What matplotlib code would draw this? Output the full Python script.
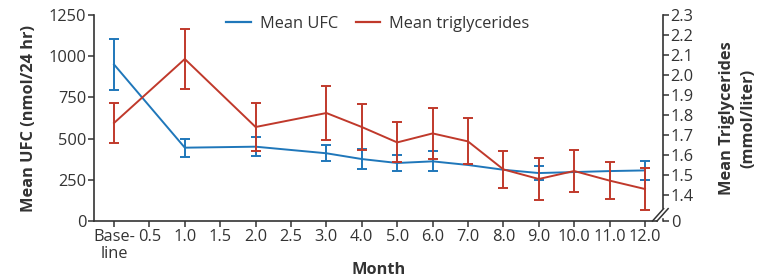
import numpy as np
import matplotlib
matplotlib.use("Agg")
import matplotlib.pyplot as plt
from matplotlib.lines import Line2D

# x categories (evenly spaced on the axis)
tick_labels = ["Base-\nline", "0.5", "1.0", "1.5", "2.0", "2.5", "3.0", "4.0",
               "5.0", "6.0", "7.0", "8.0", "9.0", "10.0", "11.0", "12.0"]
# measured visits -> index into tick_labels
visit_idx = [0, 2, 4, 6, 7, 8, 9, 10, 11, 12, 13, 14, 15]

ufc_mean = [950, 445, 451, 411, 376, 352, 362, 340, 311, 291, 297, 303, 307]
ufc_err = [155, 55, 58, 48, 63, 50, 60, np.nan, np.nan, 40, np.nan, np.nan, 60]

tg_mean = [1.76, 2.08, 1.74, 1.81, 1.74, 1.663, 1.708, 1.668, 1.528, 1.48, 1.52, 1.472, 1.43]
tg_err = [0.10, 0.15, 0.12, 0.135, 0.115, 0.10, 0.127, 0.115, 0.093, 0.105, 0.105, 0.094, 0.106]

ufc_ticks = [0, 250, 500, 750, 1000, 1250]
tg_ticks = [1.4, 1.5, 1.6, 1.7, 1.8, 1.9, 2.0, 2.1, 2.2, 2.3]

BLUE = "#1f77ba"
RED = "#c0392b"
INK = "#333333"

plt.rcParams["font.family"] = ["Open Sans", "DejaVu Sans"]
plt.rcParams["font.size"] = 11.8
plt.rcParams["text.color"] = INK
plt.rcParams["axes.labelcolor"] = INK
plt.rcParams["xtick.color"] = INK
plt.rcParams["ytick.color"] = INK

fig = plt.figure(figsize=(7.6, 2.78), dpi=100)
ax = fig.add_axes([0.1237, 0.205, 0.7487, 0.741])
ax2 = ax.twinx()

ax.errorbar(visit_idx, ufc_mean, yerr=ufc_err, color=BLUE, lw=1.4,
            elinewidth=1.4, capsize=3.6, capthick=1.4, zorder=2)
ax2.errorbar(visit_idx, tg_mean, yerr=tg_err, color=RED, lw=1.4,
             elinewidth=1.4, capsize=3.6, capthick=1.4, zorder=3)

ax.set_xlim(-0.565, 15.51)
ax.set_ylim(0, 1250)
ax2.set_ylim(1.27, 2.3)

ax.set_xticks(range(len(tick_labels)))
ax.set_xticklabels(tick_labels, linespacing=1.1)
ax.set_yticks(ufc_ticks)
ax2.set_yticks([1.27] + tg_ticks)
ax2.set_yticklabels(["0"] + [f"{t:.1f}" for t in tg_ticks])

for a in (ax, ax2):
    a.tick_params(direction="out", length=4, width=1.1, pad=1.5)
    for s in a.spines.values():
        s.set_color(INK)
        s.set_linewidth(1.2)
    a.spines["top"].set_visible(False)

ax.spines["right"].set_visible(False)
ax2.spines["left"].set_visible(False)
ax2.spines["bottom"].set_visible(False)
ax.spines["bottom"].set_bounds(-0.565, 15.34)
ax2.spines["right"].set_bounds(1.335, 2.3)

# axis break marks
kw = dict(transform=ax2.transAxes, color=INK, lw=1.1, clip_on=False)
ax2.plot([0.9895, 1.009], [0.0, 0.06], **kw)
ax2.plot([0.9815, 1.001], [0.0, 0.06], **kw)
ax2.plot([1.0, 1.0], [0.0, 0.01], **kw)

ax.set_ylabel("Mean UFC (nmol/24 hr)", fontweight="bold", labelpad=8)
ax2.set_ylabel("Mean Triglycerides\n(mmol/liter)", fontweight="bold", labelpad=18,
               linespacing=1.45)
ax.set_xlabel("Month", fontweight="bold", labelpad=0)

handles = [Line2D([], [], color=BLUE, lw=1.6), Line2D([], [], color=RED, lw=1.6)]
fig.legend(handles, ["Mean UFC", "Mean triglycerides"], loc="center",
           bbox_to_anchor=(0.497, 0.915), ncol=2, frameon=False,
           handlelength=1.5, handletextpad=0.55, columnspacing=1.1)

fig.savefig("out.png", dpi=100)
